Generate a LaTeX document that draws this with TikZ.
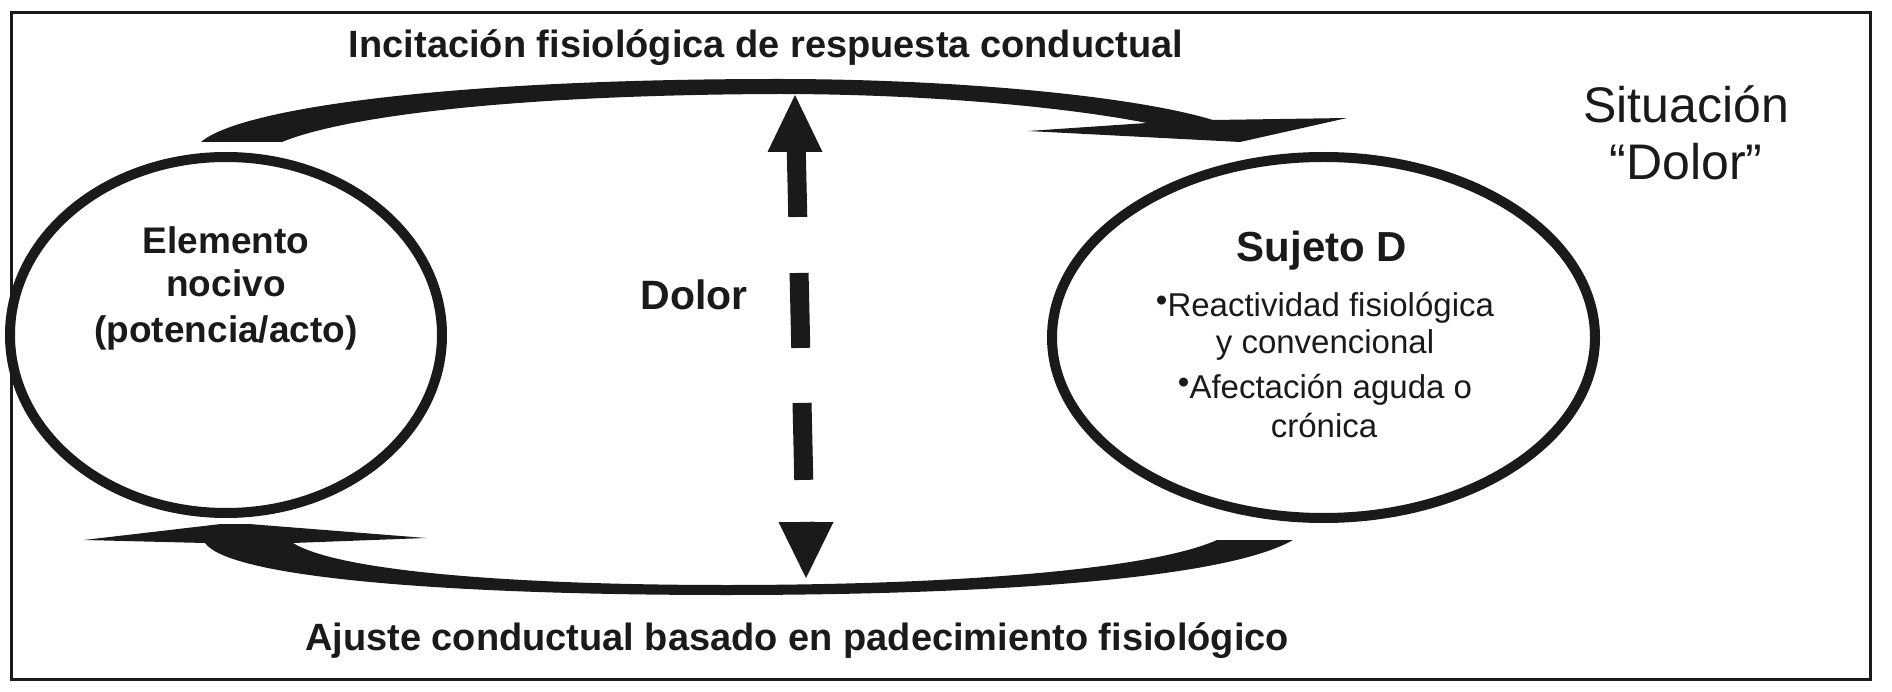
\documentclass[tikz,border=0pt]{standalone}
\usepackage{fontspec}
\setmainfont{Liberation Sans}
\usetikzlibrary{shapes.geometric}
\definecolor{ink}{HTML}{1A1A1A}
\newcommand{\bul}{\raisebox{5pt}{•}}
\begin{document}
\begin{tikzpicture}[x=1pt,y=-1pt,
  borderbox/.style={draw=ink, line width=3pt, inner sep=0pt, anchor=north west},
  oval/.style={draw=ink, line width=10pt, ellipse, inner sep=0pt, outer sep=0pt},
  brush/.style={fill=ink, draw=none},
  headtxt/.style={font=\fontsize{38}{44}\selectfont\bfseries, text=ink, inner sep=0pt, anchor=base},
  ovaltxt/.style={font=\fontsize{37}{44}\selectfont\bfseries, text=ink, inner sep=0pt, anchor=base},
  subjtxt/.style={font=\fontsize{42}{48}\selectfont\bfseries, text=ink, inner sep=0pt, anchor=base},
  bullettxt/.style={font=\fontsize{33}{38}\selectfont, text=ink, inner sep=0pt, anchor=base},
  sittxt/.style={font=\fontsize{50}{58}\selectfont, text=ink, inner sep=0pt, anchor=base},
  dashbar/.style={draw=ink, line width=19pt, dash pattern=on 65pt off 56pt on 75pt off 55pt on 77pt off 42pt}
]
\useasboundingbox (0,0) rectangle (1892,692);
\fill[white] (0,0) rectangle (1892,692);

% frame
\node[borderbox, minimum width=1859.5pt, minimum height=667pt] (frame) at (9.5,11) {};

% ellipses
\node[oval, minimum width=432pt, minimum height=356pt] (nocivo) at (226,335) {};
\node[oval, minimum width=543pt, minimum height=361pt] (sujeto) at (1323.5,337.5) {};

% texts
\node[headtxt] (toplabel) at (766,58) {Incitación fisiológica de respuesta conductual};
\node[headtxt] (botlabel) at (797,650) {Ajuste conductual basado en padecimiento fisiológico};
\node[ovaltxt] (el1) at (226,254) {Elemento};
\node[ovaltxt] (el2) at (226,297) {nocivo};
\node[ovaltxt] (el3) at (226,343) {(potencia/acto)};
\node[subjtxt] (sj) at (1322,262) {Sujeto D};
\node[bullettxt] (b1) at (1325,317) {\bul Reactividad fisiológica};
\node[bullettxt] (b1b) at (1325,353) {y convencional};
\node[bullettxt] (b2) at (1325,398) {\bul Afectación aguda o};
\node[bullettxt] (b2b) at (1324,437) {crónica};
\node[subjtxt, font=\fontsize{41}{48}\selectfont\bfseries] (dolor) at (694,310) {Dolor};
\node[sittxt] (sit1) at (1686,123) {Situación};
\node[sittxt] (sit2) at (1686,180) {“Dolor”};

% dashed double arrow
\coordinate (dtop) at (795,95);
\coordinate (dbot) at (806,578);
\fill[ink] (dtop) -- ++(-27.5,57) -- ++(55,0) -- cycle;
\fill[ink] (dbot) -- ++(-27.5,-56) -- ++(55,0) -- cycle;
\draw[dashbar, shorten <=57pt, shorten >=56pt] (dtop) -- (dbot);

% top brush arrow
\fill[brush] (201,142) .. controls (240,108) and (450,79) .. (778,79)
  .. controls (950,79) and (1130,95) .. (1213,120)
  -- (1347,118) -- (1240,142) -- (1028,131) -- (1147,123)
  .. controls (1060,106) and (920,94) .. (778,94)
  .. controls (500,95) and (340,118) .. (282,142) -- cycle;

% bottom brush arrow
\fill[brush] (84,540) -- (221,524) -- (249,524) -- (426,538) -- (293,543)
  .. controls (340,572) and (520,585) .. (727,585)
  .. controls (950,585) and (1150,570) .. (1217,540)
  -- (1293,540)
  .. controls (1220,582) and (960,595) .. (727,595)
  .. controls (450,595) and (230,578) .. (205,543)
  -- cycle;
\end{tikzpicture}
\end{document}
